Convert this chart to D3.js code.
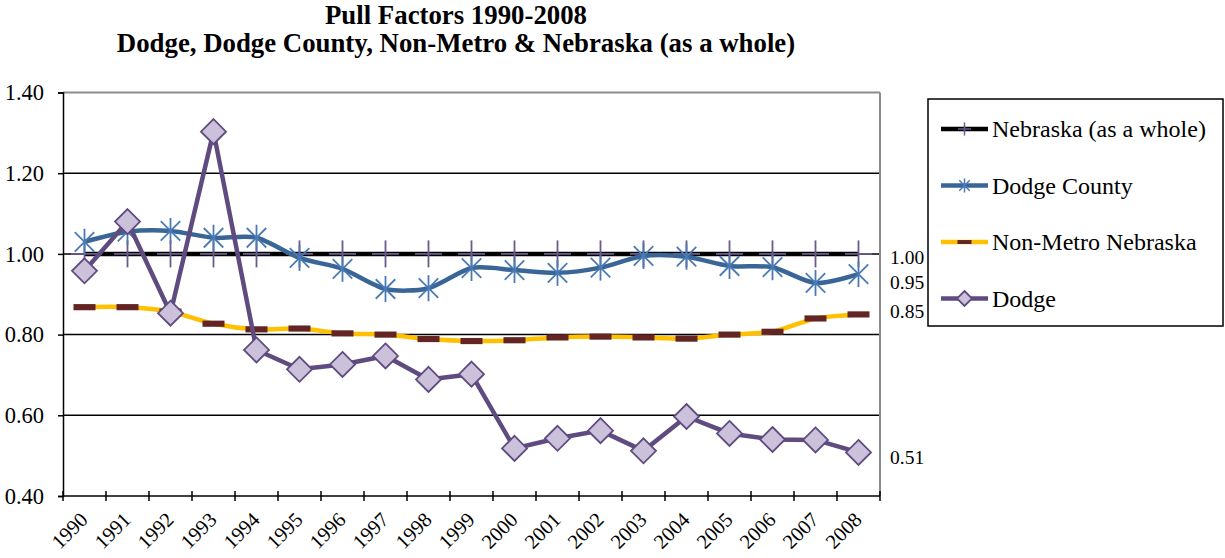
<!DOCTYPE html>
<html><head><meta charset="utf-8">
<script src="https://cdn.jsdelivr.net/npm/d3@7"></script>
<style>html,body{margin:0;padding:0;background:#fff;}svg{display:block;}</style>
</head><body>
<svg id="chart" width="1225" height="558"></svg>
<script>
const years = ["1990","1991","1992","1993","1994","1995","1996","1997","1998","1999","2000","2001","2002","2003","2004","2005","2006","2007","2008"];
const nebraska = [1,1,1,1,1,1,1,1,1,1,1,1,1,1,1,1,1,1,1];
const dodgeCounty = [1.03,1.055,1.057,1.04,1.04,0.99,0.963,0.913,0.915,0.965,0.96,0.953,0.966,0.995,0.993,0.97,0.967,0.928,0.95];
const nonMetro = [0.868,0.868,0.857,0.827,0.813,0.815,0.803,0.80,0.789,0.784,0.786,0.793,0.795,0.793,0.79,0.80,0.807,0.84,0.85];
const dodge = [0.958,1.08,0.853,1.303,0.762,0.714,0.726,0.747,0.689,0.702,0.518,0.543,0.562,0.512,0.597,0.555,0.540,0.539,0.508];
const yTicks = [0.40,0.60,0.80,1.00,1.20,1.40];
const endLabels = ["1.00","0.95","0.85","0.51"];
const titleLines = ["Pull Factors 1990-2008","Dodge, Dodge County, Non-Metro & Nebraska (as a whole)"];
const seriesNames = ["Nebraska (as a whole)","Dodge County","Non-Metro Nebraska","Dodge"];

const svg = d3.select("#chart");
const FONT = "Liberation Serif";
const L = 63, R = 880, T = 92.5, B = 496;
const x = d3.scaleBand().domain(years).range([L, R]);
const y = d3.scaleLinear().domain([0.4, 1.4]).range([B, T]);
const cx = d => x(d) + x.bandwidth() / 2;

// title
svg.append("g").selectAll("text").data(titleLines).join("text")
  .attr("x", 456).attr("y", (d, i) => 24 + i * 28)
  .attr("text-anchor", "middle").style("font-family", FONT)
  .attr("font-weight", "bold").attr("font-size", 26.8).attr("fill", "#000").text(d => d);

// gridlines
svg.append("g").selectAll("line").data(yTicks.filter(v => v > 0.4 && v < 1.4)).join("line")
  .attr("x1", L).attr("x2", R).attr("y1", d => y(d)).attr("y2", d => y(d))
  .attr("stroke", "#000").attr("stroke-width", 1.5);
// top & right border
svg.append("line").attr("x1", L).attr("x2", R).attr("y1", y(1.4)).attr("y2", y(1.4)).attr("stroke", "#8c8c8c").attr("stroke-width", 2);
svg.append("line").attr("x1", R).attr("x2", R).attr("y1", T).attr("y2", B).attr("stroke", "#8c8c8c").attr("stroke-width", 2);

// y axis
const yAxis = svg.append("g").attr("transform", `translate(${L},0)`)
  .call(d3.axisLeft(y).tickValues(yTicks).tickFormat(d3.format(".2f")).tickSize(5).tickPadding(0));
yAxis.select(".domain").attr("stroke", "#000").attr("stroke-width", 1.5);
yAxis.selectAll(".tick line").attr("stroke", "#000").attr("stroke-width", 1.5);
yAxis.selectAll(".tick text").remove();
svg.append("g").selectAll("text").data(yTicks).join("text")
  .attr("x", 44).attr("y", d => y(d))
  .attr("text-anchor", "end").attr("dy", "0.34em")
  .style("font-family", FONT).attr("font-size", 22.5).attr("fill", "#000").text(d3.format(".2f"));

// x axis with boundary ticks
const xb = d3.scaleLinear().domain([0, years.length]).range([L, R]);
svg.append("line").attr("x1", L).attr("x2", R).attr("y1", B).attr("y2", B).attr("stroke", "#000").attr("stroke-width", 1.5);
svg.append("g").selectAll("line").data(d3.range(years.length + 1)).join("line")
  .attr("x1", d => xb(d)).attr("x2", d => xb(d)).attr("y1", B - 5).attr("y2", B + 5)
  .attr("stroke", "#000").attr("stroke-width", 1.5);
svg.append("g").selectAll("text").data(years).join("text")
  .attr("transform", d => `translate(${cx(d) - 0.5},${B + 20}) rotate(-45)`)
  .attr("text-anchor", "end").attr("dy", "0.35em")
  .style("font-family", FONT).attr("font-size", 20.5).attr("fill", "#000").text(d => d);

// lines
const straight = d3.line().x((d, i) => cx(years[i])).y(d => y(d));
const smooth = d3.line().x((d, i) => cx(years[i])).y(d => y(d)).curve(d3.curveCardinal.tension(0.2));

const NEB_LINE = "#000", NEB_MARK = "#6b5a8c";
const DC_LINE = "#3a6597", DC_MARK = "#4a7ab5";
const NM_LINE = "#ffc000", NM_MARK = "#632523";
const DG_LINE = "#5f4b7f", DG_FILL = "#ccc1da";

function plusMark(g, s, color, w) {
  g.append("line").attr("x1", -s).attr("x2", s).attr("y1", 0).attr("y2", 0).attr("stroke", color).attr("stroke-width", w);
  g.append("line").attr("x1", 0).attr("x2", 0).attr("y1", -s).attr("y2", s).attr("stroke", color).attr("stroke-width", w);
}
function starMark(g, s, color, w) {
  const k = s * 0.75;
  g.append("line").attr("x1", 0).attr("x2", 0).attr("y1", -s).attr("y2", s).attr("stroke", color).attr("stroke-width", w);
  g.append("line").attr("x1", -k).attr("x2", k).attr("y1", -k).attr("y2", k).attr("stroke", color).attr("stroke-width", w);
  g.append("line").attr("x1", -k).attr("x2", k).attr("y1", k).attr("y2", -k).attr("stroke", color).attr("stroke-width", w);
}
function dashMark(g, s, color) {
  g.append("rect").attr("x", -s).attr("y", -s * 0.28).attr("width", 2 * s).attr("height", s * 0.56).attr("fill", color);
}
function diamondMark(g, s) {
  g.append("path").attr("d", `M0,${-s}L${s},0L0,${s}L${-s},0Z`).attr("fill", DG_FILL).attr("stroke", DG_LINE).attr("stroke-width", 1.8);
}

// Nebraska
svg.append("path").datum(nebraska).attr("d", straight).attr("fill", "none").attr("stroke", NEB_LINE).attr("stroke-width", 4.5);
svg.append("g").selectAll("g").data(nebraska).join("g")
  .attr("transform", (d, i) => `translate(${cx(years[i])},${y(d)})`)
  .each(function () { plusMark(d3.select(this), 13.5, NEB_MARK, 1.8); });

// Dodge County
svg.append("path").datum(dodgeCounty).attr("d", smooth).attr("fill", "none").attr("stroke", DC_LINE).attr("stroke-width", 4.5);
svg.append("g").selectAll("g").data(dodgeCounty).join("g")
  .attr("transform", (d, i) => `translate(${cx(years[i])},${y(d)})`)
  .each(function () { starMark(d3.select(this), 13, DC_MARK, 1.8); });

// Non-Metro
svg.append("path").datum(nonMetro).attr("d", smooth).attr("fill", "none").attr("stroke", NM_LINE).attr("stroke-width", 4.5);
svg.append("g").selectAll("g").data(nonMetro).join("g")
  .attr("transform", (d, i) => `translate(${cx(years[i])},${y(d)})`)
  .each(function () { dashMark(d3.select(this), 11, NM_MARK); });

// Dodge
svg.append("path").datum(dodge).attr("d", straight).attr("fill", "none").attr("stroke", DG_LINE).attr("stroke-width", 4.5);
svg.append("g").selectAll("g").data(dodge).join("g")
  .attr("transform", (d, i) => `translate(${cx(years[i])},${y(d)})`)
  .each(function () { diamondMark(d3.select(this), 12.5); });

// end labels
const labelOffsets = [3, 8, -3, 6];
svg.append("g").selectAll("text").data(endLabels).join("text")
  .attr("x", 890).attr("y", (d, i) => y(+d) + labelOffsets[i])
  .attr("dy", "0.35em").style("font-family", FONT).attr("font-size", 19.5).attr("fill", "#000").text(d => d);

// legend
const lg = svg.append("g");
lg.append("rect").attr("x", 928).attr("y", 99).attr("width", 295).attr("height", 227)
  .attr("fill", "#fff").attr("stroke", "#000").attr("stroke-width", 1.5);
const rowY = i => 129 + i * 56.5;
const legLine = [NEB_LINE, DC_LINE, NM_LINE, DG_LINE];
seriesNames.forEach((name, i) => {
  const g = lg.append("g").attr("transform", `translate(0,${rowY(i)})`);
  g.append("line").attr("x1", 941).attr("x2", 988).attr("y1", 0).attr("y2", 0).attr("stroke", legLine[i]).attr("stroke-width", 4.5);
  const m = g.append("g").attr("transform", "translate(964.5,0)");
  if (i === 0) plusMark(m, 6.5, NEB_MARK, 1.5);
  if (i === 1) starMark(m, 7, DC_MARK, 1.5);
  if (i === 2) dashMark(m, 7, NM_MARK);
  if (i === 3) diamondMark(m, 7.5);
  g.append("text").attr("x", 992).attr("dy", "0.35em")
    .style("font-family", FONT).attr("font-size", 24).attr("fill", "#000").text(name);
});
</script>
</body></html>
